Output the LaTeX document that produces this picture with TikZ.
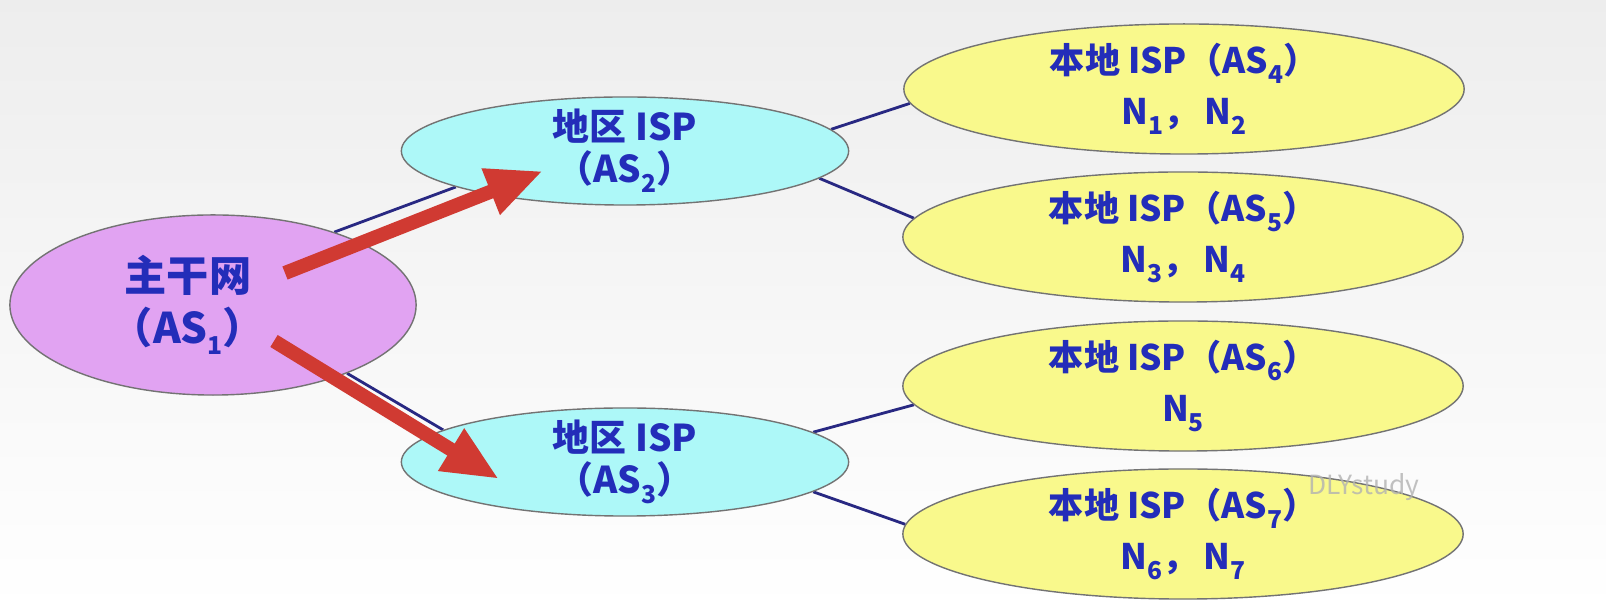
\documentclass[tikz,border=0pt]{standalone}
\usepackage{fontspec}
\setmainfont{Noto Sans CJK SC}
\usepackage{tikz}
\usetikzlibrary{shapes.geometric,arrows.meta,calc,backgrounds}
\definecolor{txtblue}{RGB}{35,45,185}
\definecolor{violetfill}{RGB}{225,163,242}
\definecolor{cyanfill}{RGB}{173,248,248}
\definecolor{yellowfill}{RGB}{249,249,140}
\definecolor{navy}{RGB}{40,40,130}
\definecolor{arrowred}{RGB}{208,58,50}
\newcommand\subn[1]{\raisebox{-0.5ex}{\fontsize{7}{7}\selectfont #1}}

\begin{document}
\begin{tikzpicture}[x=0.01cm,y=-0.01cm,
  net/.style={ellipse,draw=black!55,thin,inner sep=-4pt,align=center,text=txtblue},
  backbone/.style={net,fill=violetfill,minimum width=4.06cm,minimum height=1.8cm,font=\bfseries\fontsize{12}{14.8}\selectfont},
  regional/.style={net,fill=cyanfill,minimum width=4.47cm,minimum height=1.08cm,font=\bfseries\fontsize{10.5}{12}\selectfont},
  localisp/.style={net,fill=yellowfill,minimum width=5.6cm,minimum height=1.3cm,font=\bfseries\fontsize{10}{14.5}\selectfont},
  link/.style={navy,line width=0.8pt},
  flow/.style={arrowred,line width=4pt,-{Triangle[length=16pt,width=13pt]}}]
\useasboundingbox (0,0) rectangle (1606,610);
\begin{scope}[on background layer]
\shade[top color=black!7,bottom color=white] (0,0) rectangle (1606,610);
\end{scope}

\node[backbone] (as1) at (213,305) {主干网\hspace*{0.5cm}\\（AS\subn{1}）\hspace*{0.5cm}};
\node[regional] (as2) at (625,151) {地区 ISP\\（AS\subn{2}）};
\node[regional] (as3) at (625,462) {地区 ISP\\（AS\subn{3}）};
\node[localisp] (as4) at (1184,89) {本地 ISP（AS\subn{4}）\\N\subn{1}，\,N\subn{2}};
\node[localisp] (as5) at (1183,237) {本地 ISP（AS\subn{5}）\\N\subn{3}，\,N\subn{4}};
\node[localisp] (as6) at (1183,386) {本地 ISP（AS\subn{6}）\\N\subn{5}};
\node[localisp] (as7) at (1183,534) {本地 ISP（AS\subn{7}）\\N\subn{6}，\,N\subn{7}};

\begin{scope}[on background layer]
\draw[link] (as1.31)--(as2.192);
\draw[link] (as1.-27)--(as3.170);
\draw[link] (as2.6)--(as4.183);
\draw[link] (as2.-8)--(as5.176);
\draw[link] (as3.9)--(as6.184);
\draw[link] (as3.-9)--(as7.178);
\end{scope}

\coordinate (up0) at ($(as1)+(72,-32)$);
\coordinate (up1) at ($(as2)+(-82,20)$);
\coordinate (dn0) at ($(as1)+(61,36)$);
\coordinate (dn1) at ($(as3)+(-126,17)$);
\draw[flow] (up0)--(up1);
\draw[flow] (dn0)--(dn1);

\node[text=black!30,opacity=0.8,font=\fontsize{7.5}{9}\selectfont] (mark) at (1364,487) {DLYstudy};
\end{tikzpicture}
\end{document}
